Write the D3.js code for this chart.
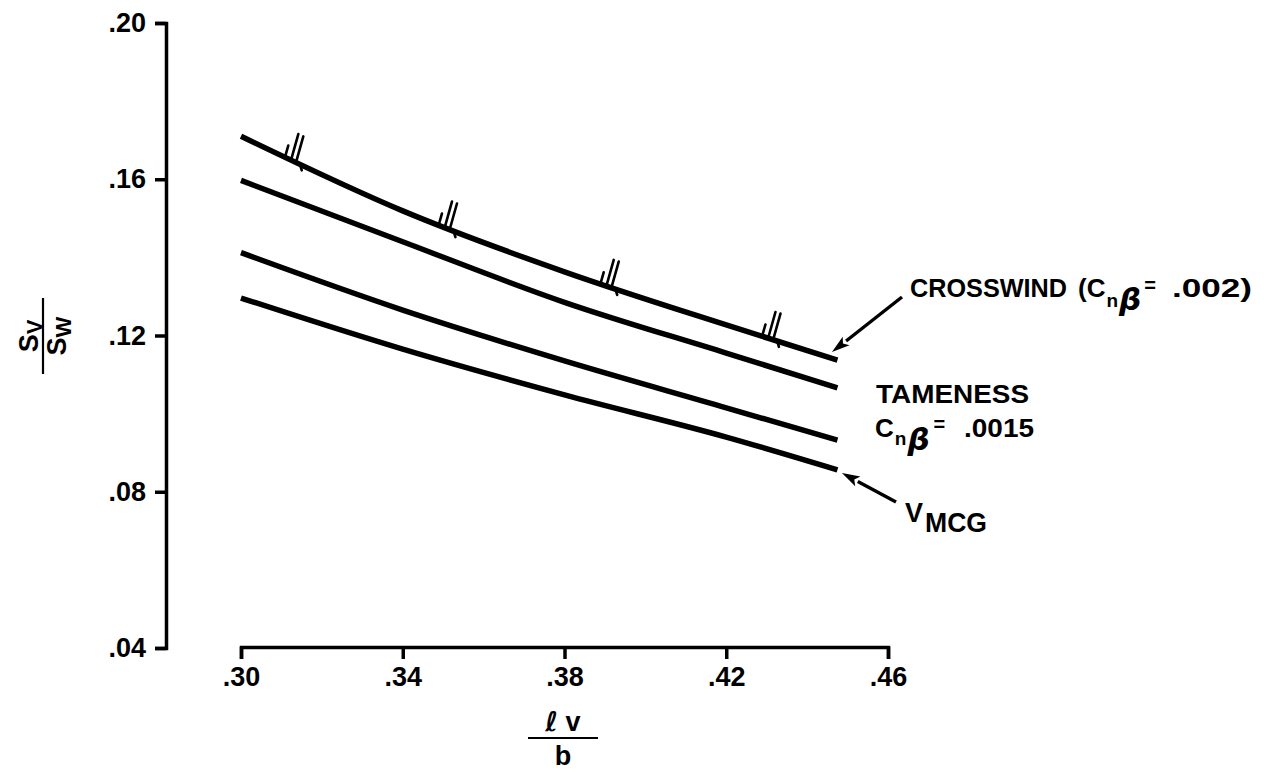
<!DOCTYPE html>
<html>
<head>
<meta charset="utf-8">
<script src="https://cdn.jsdelivr.net/npm/d3@7"></script>
<style>
  html, body { margin: 0; padding: 0; background: #fff; }
  svg { display: block; }
</style>
</head>
<body>
<div id="chart"></div>
<script>
// tail length ratio lv/b
const lvb = [0.30, 0.34, 0.38, 0.42, 0.4475];

// tail area ratio Sv/Sw for each requirement
const crosswind = [0.1710, 0.1519, 0.1363, 0.1227, 0.1137];
const tamenessUpper = [0.1597, 0.1440, 0.1285, 0.1155, 0.1066];
const tamenessLower = [0.1412, 0.1265, 0.1135, 0.1015, 0.0932];
const vmcg = [0.1296, 0.1165, 0.1048, 0.0940, 0.0856];

// hatch marks on the crosswind boundary
const hatchAt = [0.313, 0.351, 0.391, 0.431];

const xTicks = [0.30, 0.34, 0.38, 0.42, 0.46];
const yTicks = [0.04, 0.08, 0.12, 0.16, 0.20];

const width = 1264;
const height = 772;
const font = "'Liberation Sans', Arial, Helvetica, sans-serif";
const greek = "'DejaVu Sans', sans-serif";

const svg = d3.select("#chart")
  .append("svg")
  .attr("width", width)
  .attr("height", height)
  .style("background", "#fff")
  .attr("font-family", font)
  .attr("font-weight", "bold")
  .attr("fill", "#000");

const x = d3.scaleLinear().domain([0.30, 0.46]).range([241, 888]);
const y = d3.scaleLinear().domain([0.04, 0.20]).range([648, 23]);

const fmt = d => d3.format(".2f")(d).replace(/^0/, "");

// axes
const gy = svg.append("g")
  .attr("transform", "translate(166,0)")
  .call(d3.axisLeft(y).tickValues(yTicks).tickFormat(fmt).tickSize(11).tickPadding(9));

const gx = svg.append("g")
  .attr("transform", "translate(0,647)")
  .call(d3.axisBottom(x).tickValues(xTicks).tickFormat(fmt).tickSize(12).tickPadding(8));

[gx, gy].forEach(g => {
  g.attr("font-family", null).attr("font-size", null);
  g.selectAll("path, line").attr("stroke", "#000").attr("stroke-width", 3.5);
  g.selectAll("text")
    .attr("fill", "#000")
    .style("font-family", font)
    .style("font-weight", "bold")
    .style("font-size", "27px");
});

// curves
const line = d3.line()
  .x(d => x(d[0]))
  .y(d => y(d[1]))
  .curve(d3.curveMonotoneX);

const series = [crosswind, tamenessUpper, tamenessLower, vmcg];

const paths = svg.append("g")
  .attr("fill", "none")
  .attr("stroke", "#000")
  .attr("stroke-width", 5.5)
  .selectAll("path")
  .data(series)
  .join("path")
  .attr("d", vals => line(lvb.map((v, i) => [v, vals[i]])));

// find the point on a path at a given pixel x
function pointAtX(node, px) {
  let lo = 0, hi = node.getTotalLength();
  for (let k = 0; k < 40; k++) {
    const mid = (lo + hi) / 2;
    if (node.getPointAtLength(mid).x < px) lo = mid; else hi = mid;
  }
  return node.getPointAtLength(lo);
}

const topNode = paths.nodes()[0];
const hatch = svg.append("g")
  .attr("stroke", "#000")
  .attr("stroke-width", 2.6)
  .attr("stroke-linecap", "round");

hatchAt.forEach(h => {
  const cx = x(h);
  const lean = [0.27, -0.96];
  const strokes = [[-8, 10], [-2, 25], [3, 25]];
  strokes.forEach(([s, len]) => {
    const bx = cx + s;
    const by = pointAtX(topNode, bx).y - 2.5;
    hatch.append("line")
      .attr("x1", bx).attr("y1", by)
      .attr("x2", bx + lean[0] * len).attr("y2", by + lean[1] * len);
  });
  const tx = cx + 7;
  const ty = pointAtX(topNode, tx).y + 1.5;
  hatch.append("line")
    .attr("x1", tx).attr("y1", ty)
    .attr("x2", tx + 1.2).attr("y2", ty + 4);
});

// arrows from labels to curve ends
function arrow(x1, y1, x2, y2) {
  const a = Math.atan2(y2 - y1, x2 - x1);
  const len = 18, half = 5.5;
  const bx = x2 - len * Math.cos(a), by = y2 - len * Math.sin(a);
  svg.append("line")
    .attr("x1", x1).attr("y1", y1)
    .attr("x2", bx).attr("y2", by)
    .attr("stroke", "#000").attr("stroke-width", 3.4);
  svg.append("path")
    .attr("d", `M${x2},${y2}L${bx - half * Math.sin(a)},${by + half * Math.cos(a)}L${bx + 4 * Math.cos(a)},${by + 4 * Math.sin(a)}L${bx + half * Math.sin(a)},${by - half * Math.cos(a)}Z`)
    .attr("fill", "#000");
}

const endX = x(lvb[lvb.length - 1]);
arrow(902, 297, endX - 5.5, y(crosswind[crosswind.length - 1]) - 8);
arrow(896, 502, endX + 4.5, y(vmcg[vmcg.length - 1]) + 3);

// labels
const cw = svg.append("text").attr("y", 297).attr("font-size", 26);
cw.append("tspan").attr("x", 910).attr("textLength", 157).attr("lengthAdjust", "spacingAndGlyphs")
  .text("CROSSWIND");
cw.append("tspan").attr("x", 1078).text("(C");
cw.append("tspan").attr("dx", 1).attr("dy", 10).attr("font-size", 19).text("n");
cw.append("tspan").attr("dx", 1).attr("dy", 3).attr("font-size", 31).attr("font-style", "italic")
  .attr("font-family", greek).text("β");
cw.append("tspan").attr("dx", 3).attr("dy", -18).attr("font-size", 20).text("=");
cw.append("tspan").attr("x", 1172).attr("dy", 5)
  .attr("textLength", 80).attr("lengthAdjust", "spacingAndGlyphs").text(".002)");

svg.append("text").attr("x", 876).attr("y", 403).attr("font-size", 26)
  .attr("textLength", 153).attr("lengthAdjust", "spacingAndGlyphs").text("TAMENESS");

const tm = svg.append("text").attr("y", 437).attr("font-size", 26);
tm.append("tspan").attr("x", 875).text("C");
tm.append("tspan").attr("dx", 1).attr("dy", 8).attr("font-size", 19).text("n");
tm.append("tspan").attr("dx", 1).attr("dy", 5).attr("font-size", 31).attr("font-style", "italic")
  .attr("font-family", greek).text("β");
tm.append("tspan").attr("dx", 4).attr("dy", -19).attr("font-size", 20).text("=");
tm.append("tspan").attr("x", 964).attr("dy", 6)
  .attr("textLength", 70).attr("lengthAdjust", "spacingAndGlyphs").text(".0015");

const vm = svg.append("text").attr("y", 522).attr("font-size", 27);
vm.append("tspan").attr("x", 905).text("V");
vm.append("tspan").attr("x", 925).attr("dy", 10).attr("font-size", 27)
  .attr("textLength", 62).attr("lengthAdjust", "spacingAndGlyphs").text("MCG");

// y axis title: Sv / Sw
const yt = svg.append("g").attr("transform", "translate(43,336) rotate(-90)");
yt.append("line").attr("x1", -38).attr("x2", 38)
  .attr("stroke", "#000").attr("stroke-width", 2.2);
const sv = yt.append("text").attr("text-anchor", "middle").attr("y", -5).attr("font-size", 27);
sv.append("tspan").text("S");
sv.append("tspan").attr("dy", 4).attr("font-size", 22).text("V");
const sw = yt.append("text").attr("text-anchor", "middle").attr("y", 23).attr("font-size", 27);
sw.append("tspan").text("S");
sw.append("tspan").attr("dy", 5).attr("font-size", 22).text("W");

// x axis title: lv / b
const xt = svg.append("g").attr("transform", "translate(563,738)");
xt.append("line").attr("x1", -35).attr("x2", 35)
  .attr("stroke", "#000").attr("stroke-width", 2.2);
const lv = xt.append("text").attr("text-anchor", "middle").attr("y", -7).attr("font-size", 27);
lv.append("tspan").attr("font-family", greek).attr("font-style", "italic").text("ℓ");
lv.append("tspan").text(" v");
xt.append("text").attr("text-anchor", "middle").attr("y", 27).attr("font-size", 27)
  .text("b");
</script>
</body>
</html>
